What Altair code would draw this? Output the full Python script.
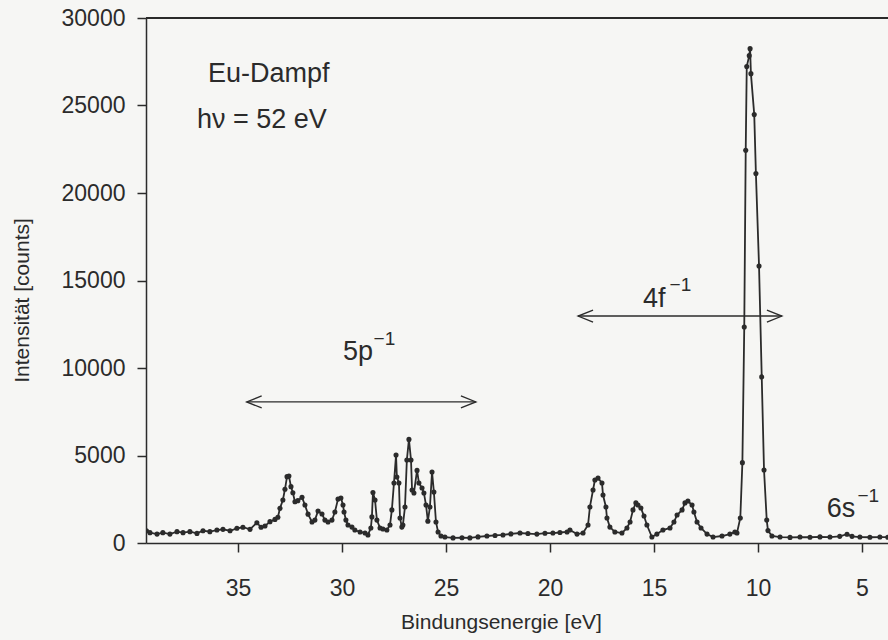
import altair as alt
import pandas as pd

# Spectrum: binding energy (eV) and intensity (counts)
energy = [39.40, 39.23, 38.89, 38.61, 38.27, 37.93, 37.64, 37.31, 36.97, 36.68,
          36.35, 36.01, 35.72, 35.38, 35.05, 34.76, 34.42, 34.09, 33.89, 33.70,
          33.46, 33.22, 33.08, 32.98, 32.84, 32.74, 32.64, 32.55, 32.45, 32.36,
          32.26, 32.12, 31.92, 31.78, 31.63, 31.44, 31.30, 31.15, 30.96, 30.82,
          30.67, 30.48, 30.34, 30.19, 30.05, 29.95, 29.90, 29.81, 29.71, 29.52,
          29.38, 29.13, 28.89, 28.75, 28.61, 28.56, 28.51, 28.41, 28.32, 28.17,
          28.03, 27.84, 27.69, 27.60, 27.50, 27.40, 27.36, 27.26, 27.21, 27.12,
          27.07, 26.97, 26.88, 26.78, 26.68, 26.63, 26.54, 26.39, 26.30, 26.15,
          26.06, 25.96, 25.87, 25.77, 25.67, 25.58, 25.48, 25.38, 25.24, 25.05,
          24.66, 24.23, 23.85, 23.46, 23.03, 22.64, 22.26, 21.88, 21.44, 21.06,
          20.63, 20.24, 19.86, 19.52, 19.18, 19.04, 18.70, 18.41, 18.17, 18.08,
          17.93, 17.84, 17.69, 17.50, 17.45, 17.31, 17.26, 17.12, 16.88, 16.54,
          16.30, 16.15, 16.01, 15.87, 15.77, 15.63, 15.48, 15.34, 15.10, 14.86,
          14.57, 14.23, 14.04, 13.89, 13.65, 13.51, 13.37, 13.17, 13.08, 12.93,
          12.74, 12.45, 12.16, 11.73, 11.35, 11.11, 11.01, 10.85, 10.75, 10.66,
          10.59, 10.54, 10.42, 10.38, 10.34, 10.18, 10.10, 9.95, 9.82, 9.71,
          9.58, 9.52, 9.33, 8.94, 8.46, 7.98, 7.50, 7.02, 6.54, 6.07,
          5.72, 5.48, 5.10, 4.62, 4.14, 3.76]
counts = [700, 590, 510, 590, 510, 650, 590, 650, 550, 700,
          650, 740, 780, 700, 840, 900, 780, 1160, 900, 970,
          1220, 1350, 1470, 1980, 2460, 3070, 3790, 3830, 3220, 2870,
          2360, 2420, 2610, 2170, 1650, 1200, 1310, 1830, 1660, 1310,
          1200, 1310, 1770, 2510, 2570, 2170, 1770, 1310, 1030, 910,
          740, 630, 570, 460, 860, 1490, 2880, 2460, 1310, 860,
          800, 740, 1030, 1890, 3430, 5030, 3770, 3430, 1430, 910,
          1030, 2060, 4740, 5920, 4740, 3030, 2860, 4150, 3430, 3140,
          2860, 2170, 1250, 2060, 4060, 2910, 1200, 630, 400, 340,
          290, 300, 290, 350, 400, 430, 460, 520, 570, 540,
          510, 560, 570, 600, 630, 740, 510, 570, 1030, 2060,
          3030, 3600, 3710, 3430, 2740, 2060, 1430, 910, 630, 570,
          860, 1200, 1890, 2290, 2170, 2000, 1540, 1030, 340, 510,
          740, 860, 1200, 1600, 1890, 2290, 2400, 2170, 1770, 1200,
          860, 510, 340, 400, 510, 630, 570, 1430, 4590, 12340,
          22440, 27230, 27850, 28250, 26820, 24480, 21110, 15830, 9490, 4170,
          1310, 710, 400, 340, 320, 340, 330, 350, 340, 380,
          500, 380, 340, 330, 340, 330]

x_ticks = [35, 30, 25, 20, 15, 10, 5]
y_ticks = [0, 5000, 10000, 15000, 20000, 25000, 30000]

# Annotations (data coordinates)
label_text = ["Eu-Dampf", "hν = 52 eV", "5p", "4f", "6s"]
label_E = [36.44, 36.97, 29.95, 15.53, 6.70]
label_I = [26320, 23710, 10460, 13500, 1500]
sup_text = ["−1", "−1", "−1"]
sup_E = [28.48, 14.25, 5.22]
sup_I = [11300, 14400, 2360]

arrow_left = [34.58, 18.65]
arrow_right = [23.56, 8.85]
arrow_I = [8060, 12970]

FONT = "Liberation Sans"
INK = "#2b2b2b"
BG = "#f6f6f4"

spec = pd.DataFrame({"E": energy, "I": counts})
labels = pd.DataFrame({"E": label_E, "I": label_I, "t": label_text})
sups = pd.DataFrame({"E": sup_E, "I": sup_I, "t": sup_text})
arrows = pd.DataFrame({"E": arrow_left, "E2": arrow_right, "I": arrow_I})

x_scale = alt.Scale(domain=[3.75, 39.42], reverse=True, nice=False, zero=False)
y_scale = alt.Scale(domain=[0, 30000], nice=False)

x_axis = alt.Axis(values=x_ticks, title="Bindungsenergie [eV]", grid=False,
                  tickSize=9, tickWidth=1.5, domainWidth=1.5,
                  domainColor=INK, tickColor=INK, labelColor=INK, titleColor=INK,
                  labelFont=FONT, labelFontSize=23, labelPadding=25,
                  titleFont=FONT, titleFontSize=21, titleFontWeight="normal",
                  titleX=355, titleY=85, titleBaseline="alphabetic",
                  titleAlign="center")
y_axis = alt.Axis(values=y_ticks, format="d", title="Intensität [counts]",
                  grid=False, tickSize=9, tickWidth=1.5, domainWidth=1.5,
                  domainColor=INK, tickColor=INK, labelColor=INK, titleColor=INK,
                  labelFont=FONT, labelFontSize=23, labelPadding=12,
                  titleFont=FONT, titleFontSize=21, titleFontWeight="normal",
                  titleX=-118, titleY=282, titleAngle=-90,
                  titleBaseline="alphabetic", titleAlign="center")

X = alt.X("E:Q", scale=x_scale, axis=x_axis)
Y = alt.Y("I:Q", scale=y_scale, axis=y_axis)

line = alt.Chart(spec).mark_line(color=INK, strokeWidth=1.8, clip=True).encode(
    x=X, y=Y, order="E:Q")
pts = alt.Chart(spec).mark_circle(color=INK, size=26, opacity=1, clip=True).encode(x=X, y=Y)

top = alt.Chart(spec).mark_rule(color=INK, strokeWidth=1.5).encode(
    x=alt.value(0), x2=alt.value(742), y=alt.value(0))

rules = alt.Chart(arrows).mark_rule(color=INK, strokeWidth=1.3).encode(
    x=X, x2=alt.X2("E2:Q"), y=Y)
head_l = alt.Chart(arrows).mark_point(
    shape="M 1 -0.4 L 0 0 L 1 0.4", filled=False, color=INK, strokeWidth=1.3,
    size=900, opacity=1).encode(x=X, y=Y)
head_r = alt.Chart(arrows).mark_point(
    shape="M -1 -0.4 L 0 0 L -1 0.4", filled=False, color=INK, strokeWidth=1.3,
    size=900, opacity=1).encode(x=alt.X("E2:Q", scale=x_scale, axis=x_axis), y=Y)

txt = alt.Chart(labels).mark_text(font=FONT, fontSize=27, color=INK, align="left",
                                   baseline="alphabetic").encode(x=X, y=Y, text="t:N")
sup = alt.Chart(sups).mark_text(font=FONT, fontSize=19, color=INK, align="left",
                                 baseline="alphabetic").encode(x=X, y=Y, text="t:N")

chart = alt.layer(line, pts, top, rules, head_l, head_r, txt, sup).properties(
    width=742, height=525,
    padding={"left": 146, "top": 18, "right": 0, "bottom": 97},
    autosize=alt.AutoSizeParams(type="none"),
    background=BG,
).configure_view(stroke=None)

chart.save("out.html", embed_options={"renderer": "svg", "actions": False})
